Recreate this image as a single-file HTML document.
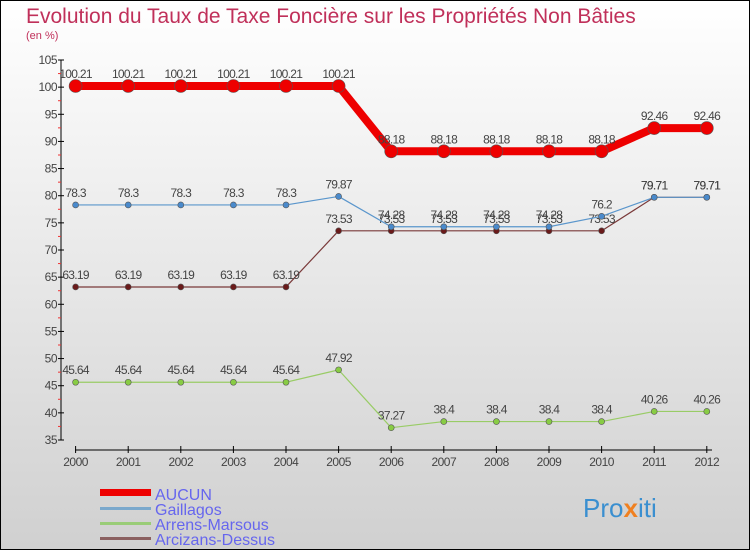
<!DOCTYPE html>
<html><head><meta charset="utf-8"><style>
body{margin:0;width:750px;height:550px;overflow:hidden;font-family:"Liberation Sans",sans-serif}
svg{display:block}
</style></head><body>
<svg id="chart" width="750" height="550" xmlns="http://www.w3.org/2000/svg">
<defs><linearGradient id="bg" x1="0" y1="0" x2="0" y2="1"><stop offset="0" stop-color="#ffffff"/><stop offset="1" stop-color="#d0d0d0"/></linearGradient></defs>
<rect x="0.5" y="0.5" width="749" height="549" fill="url(#bg)" stroke="#000"/>
<text x="26" y="23" font-size="21" fill="#c0305a">Evolution du Taux de Taxe Foncière sur les Propriétés Non Bâties</text>
<text x="26" y="39" font-size="11" fill="#c0305a">(en %)</text>
<g id="axes"></g><g id="series"></g>
<g>
<rect x="100" y="489" width="51" height="7" fill="#e00"/>
<text x="155" y="500" font-size="16" fill="#6666ee">AUCUN</text>
<rect x="100" y="507" width="51" height="3" fill="#7aa8cc"/>
<text x="155" y="515" font-size="16" fill="#6666ee">Gaillagos</text>
<rect x="100" y="522" width="51" height="3" fill="#99cc77"/>
<text x="155" y="530" font-size="16" fill="#6666ee">Arrens-Marsous</text>
<rect x="100" y="537" width="51" height="3" fill="#8a6060"/>
<text x="155" y="545" font-size="16" fill="#6666ee">Arcizans-Dessus</text>
</g>
<text x="583" y="517" font-size="26" fill="#3a8fd0">Pro<tspan fill="#f08020" font-weight="bold">x</tspan>iti</text>
</svg>
<script>
const years=[2000,2001,2002,2003,2004,2005,2006,2007,2008,2009,2010,2011,2012];
const yTicks=[35,40,45,50,55,60,65,70,75,80,85,90,95,100,105];
const aucun=[100.21,100.21,100.21,100.21,100.21,100.21,88.18,88.18,88.18,88.18,88.18,92.46,92.46];
const gaillagos=[78.3,78.3,78.3,78.3,78.3,79.87,74.28,74.28,74.28,74.28,76.2,79.71,79.71];
const arrens=[45.64,45.64,45.64,45.64,45.64,47.92,37.27,38.4,38.4,38.4,38.4,40.26,40.26];
const arcizans=[63.19,63.19,63.19,63.19,63.19,73.53,73.53,73.53,73.53,73.53,73.53,79.71,79.71];
const NS="http://www.w3.org/2000/svg";
const x=i=>75.6+i*52.6;
const y=v=>60+(105-v)*(380/70);
function mk(tag,attrs,parent,txt){const e=document.createElementNS(NS,tag);for(const k in attrs)e.setAttribute(k,attrs[k]);if(txt!==undefined)e.textContent=txt;parent.appendChild(e);return e;}
const ax=document.getElementById('axes');
let l=mk('line',{x1:61,y1:60,x2:61,y2:440,stroke:'#000'},ax);


yTicks.forEach(v=>{
 mk('line',{x1:58,y1:y(v),x2:64,y2:y(v),stroke:'#000'},ax);
 if(v<105){mk('line',{x1:58,y1:y(v+2.5),x2:61,y2:y(v+2.5),stroke:'#e33'},ax);}
 const t=mk('text',{x:57,y:y(v)+4,'font-size':12,'text-anchor':'end',fill:'#444','letter-spacing':'-0.5'},ax,v);
 
 
});
l=mk('line',{x1:75,y1:450,x2:712,y2:450,stroke:'#000'},ax);


years.forEach((yr,i)=>{
 mk('line',{x1:x(i),y1:446,x2:x(i),y2:453,stroke:'#000'},ax);
 const t=mk('text',{x:x(i),y:466,'font-size':12,'text-anchor':'middle',fill:'#444','letter-spacing':'-0.5'},ax,yr);
 
 
});
const sg=document.getElementById('series');
function series(name,data,color,w,r,dot){
 const g=mk('g',{},sg);
 
 
 const p=mk('polyline',{points:data.map((v,i)=>x(i)+','+y(v)).join(' '),fill:'none',stroke:color,'stroke-width':w,'stroke-linejoin':'round'},g);
 
 
 data.forEach((v,i)=>{
  const c=mk('circle',{cx:x(i),cy:y(v),r:r,fill:dot,stroke:'#555','stroke-width':0.6},g);
  
  
  const t=mk('text',{x:x(i),y:y(v)-8,'font-size':12,'text-anchor':'middle',fill:'#444','letter-spacing':'-0.7'},g,v);
  
  
 });
}
series('arcizans-dessus',arcizans,'#7a3a3a',1.2,3,'#6a1a1a');
series('gaillagos',gaillagos,'#5a96cc',1.2,3,'#4a8acc');
series('arrens-marsous',arrens,'#99cc66',1.2,3,'#88cc44');
series('aucun',aucun,'#e00',8,6.5,'#e00');
</script>
</body></html>
